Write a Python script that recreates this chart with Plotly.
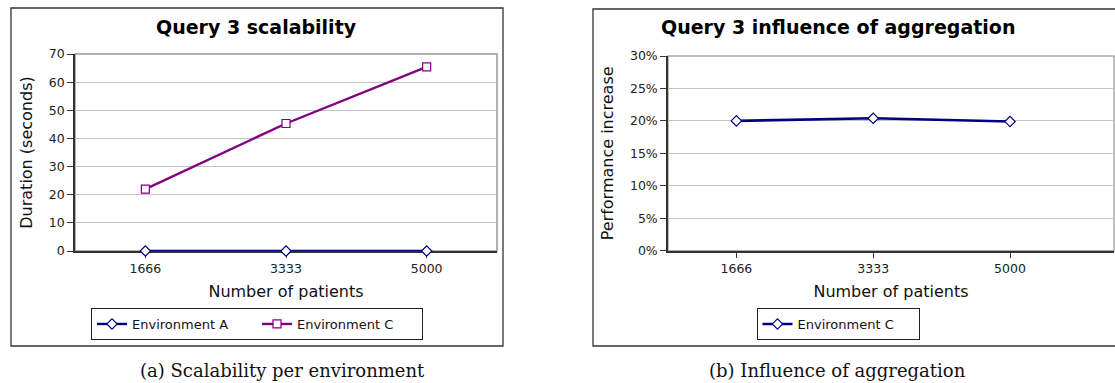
import plotly.graph_objects as go

# Query 3 measurements
patients = ["1666", "3333", "5000"]
env_a_duration = [0.0, 0.0, 0.0]
env_c_duration = [22.0, 45.3, 65.4]
env_c_gain = [0.200, 0.204, 0.199]

W, H = 1115, 383
NAVY = "#000080"
PURPLE = "#800080"
SANS = "DejaVu Sans"
SERIF = "DejaVu Serif"


def px(x):
    return x / W


def py(y):
    return 1 - y / H


fig = go.Figure()

fig.add_trace(go.Scatter(
    x=patients, y=env_a_duration, name="Environment A", mode="lines+markers",
    line=dict(color=NAVY, width=2.4),
    marker=dict(symbol="diamond", size=8, color="white", line=dict(color=NAVY, width=1.2)),
    cliponaxis=False, xaxis="x", yaxis="y", legend="legend",
))
fig.add_trace(go.Scatter(
    x=patients, y=env_c_duration, name="Environment C", mode="lines+markers",
    line=dict(color=PURPLE, width=2.4),
    marker=dict(symbol="square", size=8, color="white", line=dict(color=PURPLE, width=1.2)),
    cliponaxis=False, xaxis="x", yaxis="y", legend="legend",
))
fig.add_trace(go.Scatter(
    x=patients, y=env_c_gain, name="Environment C", mode="lines+markers",
    line=dict(color=NAVY, width=2.6),
    marker=dict(symbol="diamond", size=8, color="white", line=dict(color=NAVY, width=1.2)),
    cliponaxis=False, xaxis="x2", yaxis="y2", legend="legend2",
))

tick_font = dict(family=SANS, size=12.5, color="#222")
title_font = dict(family=SANS, size=16, color="#111")

xcommon = dict(
    type="category", showgrid=False, showline=True, linecolor="#333", linewidth=2,
    ticks="outside", ticklen=5, tickcolor="#333", tickfont=tick_font,
    layer="below traces", zeroline=False, automargin=False,
    title=dict(text="Number of patients", font=title_font, standoff=11),
)
ycommon = dict(
    showgrid=True, gridcolor="#c4c4c4", gridwidth=1, showline=True, linecolor="#333",
    linewidth=1.5, ticks="outside", ticklen=6, tickcolor="#333", tickfont=tick_font,
    zeroline=False, layer="below traces", automargin=False,
)

fig.update_layout(
    width=W, height=H, margin=dict(l=0, r=0, t=0, b=0, autoexpand=False),
    paper_bgcolor="white", plot_bgcolor="white",
    xaxis=dict(xcommon, domain=[px(75), px(497)], range=[-0.5, 2.5], anchor="y"),
    yaxis=dict(ycommon, domain=[py(251), py(54)], range=[0, 70], dtick=10, anchor="x",
               title=dict(text="Duration (seconds)", font=title_font, standoff=12)),
    xaxis2=dict(xcommon, domain=[px(668), px(1114)], range=[-0.5, 2.76], anchor="y2"),
    yaxis2=dict(ycommon, domain=[py(250.7), py(56)], range=[0, 0.3], dtick=0.05,
                tickformat=".0%", anchor="x2",
                title=dict(text="Performance increase", font=title_font, standoff=12)),
    legend=dict(
        x=px(257), y=py(324), xanchor="center", yanchor="middle", orientation="h",
        bordercolor="#222", borderwidth=1, bgcolor="white",
        font=dict(family=SANS, size=13, color="#111"), entrywidth=120,
    ),
    legend2=dict(
        x=px(838), y=py(324), xanchor="center", yanchor="middle", orientation="h",
        bordercolor="#222", borderwidth=1, bgcolor="white",
        font=dict(family=SANS, size=13, color="#111"), entrywidth=116,
    ),
    showlegend=True,
)

# Frames around each chart and the grey plot-area outlines
shapes = [
    dict(type="rect", xref="paper", yref="paper", x0=px(11), x1=px(503), y0=py(346), y1=py(8),
         line=dict(color="#333", width=1.3), layer="below"),
    dict(type="rect", xref="paper", yref="paper", x0=px(593), x1=px(1125), y0=py(346), y1=py(9),
         line=dict(color="#333", width=1.3), layer="below"),
    dict(type="rect", xref="x domain", yref="y domain", x0=0, x1=1, y0=0, y1=1,
         line=dict(color="#999", width=1.5), layer="below"),
    dict(type="rect", xref="x2 domain", yref="y2 domain", x0=0, x1=1, y0=0, y1=1,
         line=dict(color="#aaa", width=1.5), layer="below"),
]
fig.update_layout(shapes=shapes)


def label(text, x, y, font):
    return dict(text=text, x=px(x), y=py(y), xref="paper", yref="paper",
                xanchor="center", yanchor="middle", showarrow=False, font=font)


bold_title = dict(family=SANS, size=19, color="#000")
caption = dict(family=SERIF, size=18, color="#111")
fig.update_layout(annotations=[
    label("<b>Query 3 scalability</b>", 256, 27, bold_title),
    label("<b>Query 3 influence of aggregation</b>", 838, 27, bold_title),
    label("(a) Scalability per environment", 282, 370, caption),
    label("(b) Influence of aggregation", 837, 370, caption),
])

fig.write_html("out.html")
